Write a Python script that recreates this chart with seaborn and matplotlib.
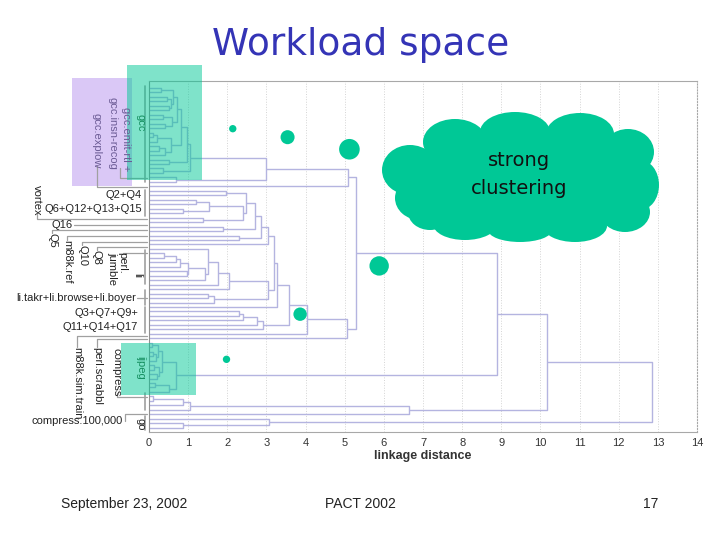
import matplotlib
matplotlib.use("Agg")
import matplotlib.pyplot as plt
from matplotlib.patches import Rectangle, Ellipse
import seaborn as sns

# dendrogram pieces: (linkage distance, upper child, lower child), None = one leaf
gcc_top = (0.72, (0.62, (0.3, None, None), (0.55, (0.45, None, None), (0.5, None, None))),
           (0.6, (0.35, None, None), (0.42, None, None)))
gcc_mid = (0.55, (0.2, (0.1, None, None), None), (0.4, (0.25, None, None), None))
gcc_tree = (1.05, (0.97, (0.83, gcc_top, gcc_mid), (0.5, None, None)), (0.35, None, None))

q_tree = (3.05, (2.85, (2.7, (2.48, (1.97, None, None),
                              (2.4, (1.54, (1.2, None, None), (0.86, None, None)), (1.37, None, None))),
                        (1.88, None, None)),
                  (2.3, None, None)),
          None)
perl_tree = (3.03, (2.05, (1.75, (1.52, None, (1.44, (1.0, (0.8, (0.7, (0.38, None, None), None), None),
                                                        (0.98, None, None)), None)), None), None),
             (1.65, (1.5, None, None), None))
tpch_tree = (2.92, (2.76, (2.4, (2.3, None, None), None), None), None)
ijpeg_tree = (0.7, (0.32, (0.22, (0.08, None, None), (0.18, (0.1, None, None), None)),
                    (0.25, (0.12, None, None), (0.2, None, None))),
              (0.5, (0.15, None, None), None))
m88k_tree = (6.64, (1.05, (0.87, (0.1, None, None), None), None), None)
go_tree = (3.07, None, (0.87, None, None))

gcc_group = (5.08, (3.0, gcc_tree, (0.7, None, None)), None)
mid_group = (5.05, (4.04, (3.58, (3.26, (3.2, q_tree, perl_tree), None), tpch_tree), None), None)
root = (12.85, (10.17, (8.9, (5.3, gcc_group, mid_group), ijpeg_tree), m88k_tree), go_tree)

# green bubbles on the plot
dot_dist = [2.14, 3.54, 5.12, 5.88, 3.86, 1.98]
dot_pos = [9.1, 11.0, 13.7, 39.8, 50.6, 60.7]
dot_area = [28, 102, 220, 195, 93, 28]

# leaf labels left of the axis (pixel positions on the slide)
hlabels = ["Q2+Q4", "Q6+Q12+Q13+Q15", "Q16", "li.takr+li.browse+li.boyer",
           "Q3+Q7+Q9+", "Q11+Q14+Q17", "compress.100,000"]
hlabel_x = [142, 142, 73, 136, 138, 138, 123]
hlabel_y = [195, 209, 225, 298, 313, 327, 421]

vlabels = ["gcc", "gcc.emit-rtl +", "gcc.insn-recog", "gcc.explow", "vortex", "Q5", "m88k.ref",
           "Q10", "Q8", "perl.\njumble", "li", "m88k.sim.train", "perl.scrabbl", "compress",
           "ijpeg", "go"]
vlabel_x = [140, 126, 113, 96, 37, 52, 67, 82, 97, 117, 137, 77, 97, 117, 140, 140]
vlabel_y = [114, 107, 97, 113, 185, 233, 240, 245, 250, 252, 273, 347, 347, 348, 356, 418]
vlabel_c = ["#158f60", "#6b5b95", "#6b5b95", "#6b5b95"] + ["#222222"] * 10 + ["#158f60", "#222222"]

leaders = [([120, 120, 147], [168, 178, 178]), ([97, 97, 147], [166, 187, 187]),
           ([37, 37, 147], [214, 219, 219]), ([74, 147], [225, 225]),
           ([52, 52, 147], [233, 230, 230]), ([67, 67, 147], [240, 236, 236]),
           ([82, 82, 147], [245, 242, 242]), ([97, 97, 147], [250, 247, 247]),
           ([123, 147], [253, 253]), ([137, 147], [298, 298]),
           ([77, 77, 147], [347, 336, 336]), ([97, 97, 147], [347, 339, 339]),
           ([117, 117, 147], [393, 397, 397]), ([125, 125, 147], [421, 414, 414])]
bracket_top = [86, 190, 201, 250, 290, 307, 393, 416]
bracket_bot = [182, 200, 216, 284, 305, 333, 410, 430]

# cloud shape (pixel ellipses)
cloud_x = [522, 410, 420, 455, 515, 580, 628, 640, 625, 575, 520, 465, 430]
cloud_y = [182, 170, 198, 142, 132, 134, 152, 185, 212, 226, 230, 224, 212]
cloud_w = [250, 56, 50, 64, 70, 68, 52, 38, 50, 64, 64, 64, 44]
cloud_h = [100, 50, 44, 46, 40, 42, 46, 50, 40, 32, 24, 32, 36]

GREEN = "#00c896"

# work out the dendrogram links
links = []
n_leaves = [0]


def place(node):
    if node is None:
        n_leaves[0] += 1
        return n_leaves[0] - 1, 0.0
    h, upper, lower = node
    y1, h1 = place(upper)
    y2, h2 = place(lower)
    links.append(([h1, h, h, h2], [y1, y1, y2, y2]))
    return (y1 + y2) / 2, h


place(root)
print("leaves:", n_leaves[0])

sns.set_style("white")
plt.rcParams["font.family"] = ["Liberation Sans", "DejaVu Sans"]

fig = plt.figure(figsize=(7.2, 5.4), dpi=100)
ax = fig.add_axes([149 / 720, 1 - 432 / 540, 548 / 720, 351 / 540])

for xs, ys in links:
    ax.plot(xs, ys, color="#b4b4e0", lw=1.0, solid_capstyle="butt")

sns.scatterplot(x=dot_dist, y=dot_pos, size=dot_area, sizes=(min(dot_area), max(dot_area)),
                size_norm=(min(dot_area), max(dot_area)), color=GREEN, edgecolor="none",
                legend=False, ax=ax, zorder=4)

ax.set_xlim(0, 14)
ax.set_ylim(76.96, -1.57)
ax.set_xticks(range(15))
ax.set_yticks([])
ax.tick_params(axis="x", labelsize=8, labelcolor="#333333", length=0, pad=4)
ax.set_xlabel("linkage distance", fontsize=9, fontweight="bold", color="#333333", labelpad=2)
ax.xaxis.grid(True, ls=":", color="#d4d4d4", lw=0.7)
ax.set_axisbelow(True)
for s in ax.spines.values():
    s.set_color("#a8a8a8")
    s.set_linewidth(0.8)
ax.spines["right"].set_linestyle(":")
ax.spines["left"].set_color("#909090")

# overlay in slide pixels for boxes, cloud and texts
ov = fig.add_axes([0, 0, 1, 1], zorder=5)
ov.set_xlim(0, 720)
ov.set_ylim(540, 0)
ov.axis("off")

ov.add_patch(Rectangle((72, 78), 60, 108, facecolor="#dac8f6", edgecolor="none", zorder=1))
ov.add_patch(Rectangle((127, 65), 75, 115, facecolor=GREEN, alpha=0.5, edgecolor="none", zorder=2))
ov.add_patch(Rectangle((121, 343), 75, 52, facecolor=GREEN, alpha=0.5, edgecolor="none", zorder=2))

for cx, cy, w, h in zip(cloud_x, cloud_y, cloud_w, cloud_h):
    ov.add_patch(Ellipse((cx, cy), w, h, facecolor=GREEN, edgecolor="none", zorder=1))

for xs, ys in leaders:
    ov.plot(xs, ys, color="#a0a0a0", lw=0.9, zorder=1)
for t, b in zip(bracket_top, bracket_bot):
    ov.plot([144.5, 144.5], [t, b], color="#a0a0a0", lw=1.2, zorder=1)

for t, x, y in zip(hlabels, hlabel_x, hlabel_y):
    ov.text(x, y, t, ha="right", va="center", fontsize=8, color="#222222", zorder=3)
for t, x, y, c in zip(vlabels, vlabel_x, vlabel_y, vlabel_c):
    ov.text(x, y, t, ha="center", va="top", rotation=-90, fontsize=8, color=c,
            multialignment="left", linespacing=1.0, zorder=3)

ov.text(361, 45, "Workload space", ha="center", va="center", fontsize=27,
        color="#3434b6", family="DejaVu Sans", zorder=3)
ov.text(519, 160, "strong", ha="center", va="center", fontsize=14,
        color="#111111", family="DejaVu Sans", zorder=3)
ov.text(519, 188, "clustering", ha="center", va="center", fontsize=14,
        color="#111111", family="DejaVu Sans", zorder=3)

ov.text(124, 504, "September 23, 2002", ha="center", va="center", fontsize=10, color="#222222")
ov.text(360, 504, "PACT 2002", ha="center", va="center", fontsize=10, color="#222222")
ov.text(651, 504, "17", ha="center", va="center", fontsize=10, color="#222222")

fig.savefig("out.png", dpi=100)
plt.close(fig)
